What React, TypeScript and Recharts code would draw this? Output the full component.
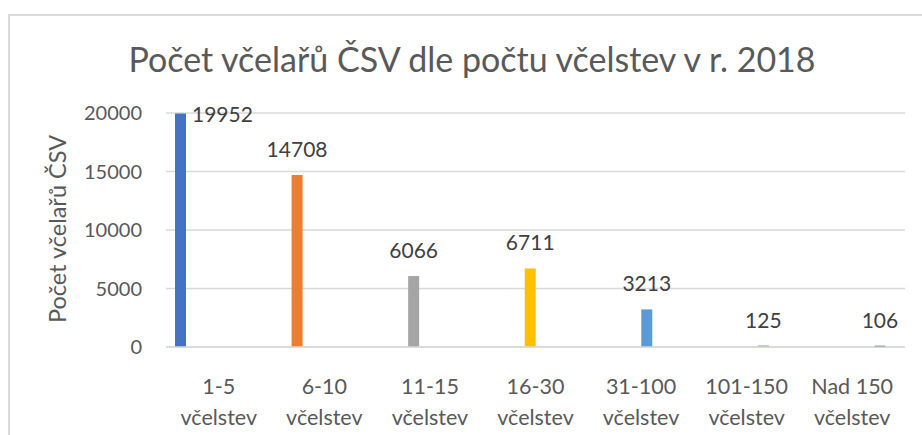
import { BarChart, Bar, XAxis, YAxis, CartesianGrid, LabelList } from "recharts";

const categories = [
  "1-5 včelstev",
  "6-10 včelstev",
  "11-15 včelstev",
  "16-30 včelstev",
  "31-100 včelstev",
  "101-150 včelstev",
  "Nad 150 včelstev",
];
const beekeepers = [19952, 14708, 6066, 6711, 3213, 125, 106];
const seriesColors = ["#4472C4", "#ED7D31", "#A5A5A5", "#FFC000", "#5B9BD5", "#70AD47", "#264478"];
const yTicks = [0, 5000, 10000, 15000, 20000];

const title = "Počet včelařů ČSV dle počtu včelstev v r. 2018";
const yLabel = "Počet včelařů ČSV";

// one series per category, like the Excel original (only its own category filled)
const data = categories.map((name, i) => {
  const row: Record<string, string | number> = { name };
  row[`s${i}`] = beekeepers[i];
  return row;
});

const FONT = "Lato, 'Open Sans', sans-serif";

const CategoryTick = (props: any) => {
  const { x, y, payload } = props;
  const words = String(payload.value).split(" ");
  const first = words.slice(0, -1).join(" ");
  const second = words[words.length - 1];
  return (
    <text x={x} y={y} textAnchor="middle" fill="#595959" fontSize={21.5} fontFamily={FONT}>
      <tspan x={x} dy={39}>{first}</tspan>
      <tspan x={x} dy={31}>{second}</tspan>
    </text>
  );
};

const makeLabel = (seriesIndex: number) => (props: any) => {
  const { x, y, width, value } = props;
  if (value === undefined || value === null) return null;
  if (seriesIndex === 0) {
    // the tallest bar gets its label beside the top, as Excel did
    return (
      <text x={x + width + 6} y={y} dominantBaseline="central" fill="#404040" fontSize={21} fontFamily={FONT}>
        {value}
      </text>
    );
  }
  return (
    <text x={x + width / 2} y={y - 18} textAnchor="middle" fill="#404040" fontSize={21} fontFamily={FONT}>
      {value}
    </text>
  );
};

export default function App() {
  return (
    <div style={{ position: "absolute", left: 0, top: 0, width: 922, height: 435, background: "#fff", overflow: "hidden" }}>
      <div
        style={{
          position: "absolute",
          left: 8,
          top: 14,
          width: 930,
          height: 440,
          borderLeft: "2px solid #d9d9d9",
          borderTop: "2px solid #d9d9d9",
        }}
      />
      <div
        style={{
          position: "absolute",
          left: 0,
          top: 42,
          width: 944,
          textAlign: "center",
          fontFamily: FONT,
          fontSize: 34,
          lineHeight: "34px",
          color: "#595959",
          whiteSpace: "nowrap",
        }}
      >
        {title}
      </div>
      <div style={{ position: "absolute", left: 0, top: 0 }}>
        <BarChart
          width={922}
          height={435}
          data={data}
          margin={{ top: 113, right: 17, bottom: 0, left: 0 }}
          barGap={0}
        >
          <CartesianGrid vertical={false} stroke="#d9d9d9" strokeWidth={1.5} />
          <XAxis
            dataKey="name"
            axisLine={{ stroke: "#d9d9d9", strokeWidth: 1.5 }}
            tickLine={false}
            interval={0}
            height={88}
            tick={<CategoryTick />}
          />
          <YAxis
            width={166}
            domain={[0, 20000]}
            ticks={yTicks}
            axisLine={false}
            tickLine={false}
            tickSize={0}
            tickMargin={24}
            tick={{ fill: "#595959", fontSize: 20, fontFamily: FONT }}
            label={{
              content: () => (
                <text
                  x={57}
                  y={229}
                  transform="rotate(-90 57 229)"
                  textAnchor="middle"
                  dominantBaseline="central"
                  fill="#595959"
                  fontSize={23.5}
                  fontFamily={FONT}
                >
                  {yLabel}
                </text>
              ),
            }}
          />
          {categories.map((_, i) => (
            <Bar key={i} dataKey={`s${i}`} fill={seriesColors[i]} barSize={11} isAnimationActive={false}>
              <LabelList dataKey={`s${i}`} content={makeLabel(i)} />
            </Bar>
          ))}
          {/* empty slot so the bars sit left of the category centre, as in Excel */}
          <Bar dataKey="pad" barSize={11} isAnimationActive={false} />
        </BarChart>
      </div>
    </div>
  );
}
